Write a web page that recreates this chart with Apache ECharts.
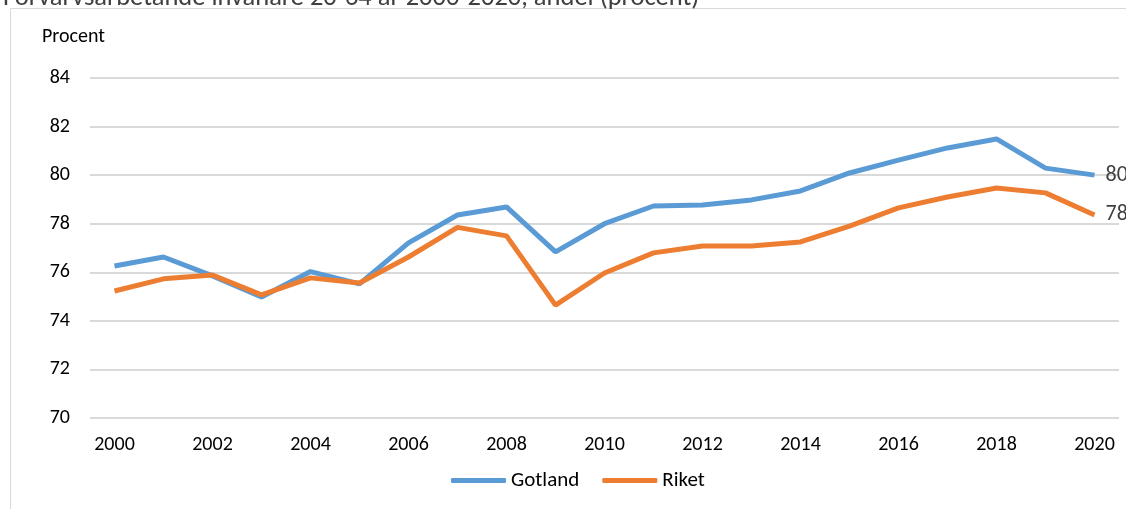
<!DOCTYPE html>
<html><head><meta charset="utf-8">
<script src="https://cdn.jsdelivr.net/npm/echarts@6/dist/echarts.min.js"></script>
<style>html,body{margin:0;padding:0;background:#fff}#c{width:1126px;height:509px}</style>
</head><body><div id="c"></div>
<script>
const years = ['2000','2001','2002','2003','2004','2005','2006','2007','2008','2009','2010','2011','2012','2013','2014','2015','2016','2017','2018','2019','2020'];
const gotland = [76.26,76.63,75.85,74.98,76.03,75.52,77.21,78.36,78.69,76.84,78.0,78.73,78.77,78.98,79.35,80.09,80.62,81.12,81.49,80.29,80.0];
const riket = [75.23,75.73,75.89,75.07,75.77,75.56,76.63,77.85,77.5,74.65,75.97,76.8,77.08,77.08,77.25,77.9,78.65,79.1,79.47,79.27,78.36];
const title = 'Förvärvsarbetande invånare 20-64 år 2000-2020, andel (procent)';
const yName = 'Procent';
const FONT = 'Carlito, Lato, "Open Sans", sans-serif';
const chart = echarts.init(document.getElementById('c'));
chart.setOption({
  animation: false,
  textStyle: {fontFamily: FONT},
  title: {text: title, left: -2, top: -20, textStyle: {fontFamily: FONT, fontSize: 26.5, fontWeight: 'normal', color: '#404040'}},
  graphic: [
    {type: 'polyline', shape: {points: [[10.5, 509], [10.5, 8.5], [1126, 8.5]]}, style: {stroke: '#d9d9d9', lineWidth: 1, fill: null}}
  ],
  legend: {bottom: 13, left: 446, itemWidth: 55, itemHeight: 5, itemGap: 23, icon: 'roundRect',
    textStyle: {fontFamily: FONT, fontSize: 21, color: '#000'}},
  grid: {left: 90, right: 7, top: 78, bottom: 91},
  xAxis: {type: 'category', data: years, boundaryGap: true,
    axisLine: {show: false}, axisTick: {show: false},
    axisLabel: {interval: 1, fontSize: 20, color: '#000', margin: 17, fontFamily: FONT}},
  yAxis: {type: 'value', min: 70, max: 84, interval: 2, name: yName,
    nameLocation: 'end', nameGap: 31, nameTextStyle: {fontSize: 20, color: '#000', align: 'left', padding: [0, 0, 0, -48], fontFamily: FONT},
    axisLabel: {fontSize: 20, color: '#000', margin: 20, fontFamily: FONT},
    splitLine: {lineStyle: {color: '#d9d9d9', width: 2}}},
  series: [
    {name: 'Gotland', type: 'line', data: gotland, symbol: 'none', lineStyle: {width: 5, color: '#5B9BD5'}, itemStyle: {color: '#5B9BD5'},
      endLabel: {show: true, formatter: p => Math.round(p.value), fontSize: 22, color: '#404040', distance: 11, fontFamily: FONT}},
    {name: 'Riket', type: 'line', data: riket, symbol: 'none', lineStyle: {width: 5, color: '#ED7D31'}, itemStyle: {color: '#ED7D31'},
      endLabel: {show: true, formatter: p => Math.round(p.value), fontSize: 22, color: '#404040', distance: 11, fontFamily: FONT}}
  ]
});
</script></body></html>
